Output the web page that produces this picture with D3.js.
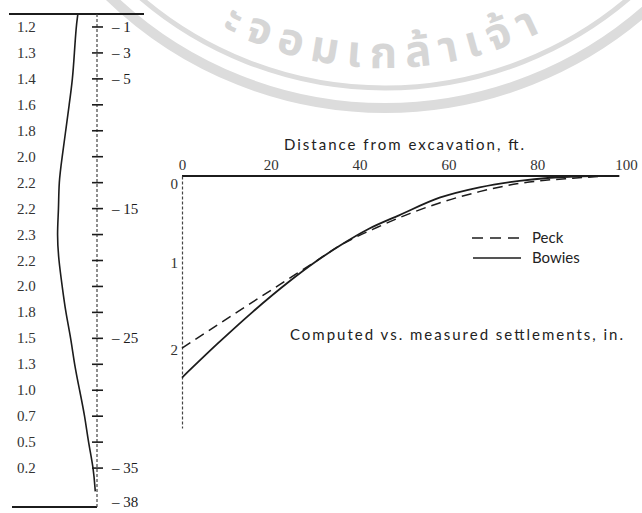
<!DOCTYPE html>
<meta charset="utf-8">
<script src="https://d3js.org/d3.v7.min.js"></script>
<style>
  body { margin: 0; background: #fff; }
</style>
<div id="my_dataviz"></div>
<script>

    // left panel: wall movement profile vs depth
    var depths = [1, 3, 5, 7, 9, 11, 13, 15, 17, 19, 21, 23, 25, 27, 29, 31, 33, 35];
    var movementLabels = ["1.2", "1.3", "1.4", "1.6", "1.8", "2.0", "2.2", "2.2", "2.3",
        "2.2", "2.0", "1.8", "1.5", "1.3", "1.0", "0.7", "0.5", "0.2"];
    var depthLabels = [1, 3, 5, 15, 25, 35, 38];
    var profileDepth = [0, 1, 3, 5, 7, 9, 11, 13, 15, 17, 19, 21, 23, 25, 27, 29, 31, 33, 35, 36.8];
    var profileValue = [1.1, 1.2, 1.3, 1.4, 1.6, 1.8, 2.0, 2.2, 2.2, 2.3, 2.2, 2.0, 1.8, 1.5, 1.3, 1.0, 0.7, 0.5, 0.2, 0.1];

    // right panel: settlement vs distance from excavation
    var distanceTicks = [0, 20, 40, 60, 80, 100];
    var settlementTicks = [0, 1, 2];
    var bowiesDist = [0, 8, 16, 24, 30, 35.6, 42, 49, 58, 67, 76, 83, 93];
    var bowiesSettle = [2.32, 1.93, 1.56, 1.22, 0.99, 0.80, 0.61, 0.45, 0.25, 0.13, 0.055, 0.02, 0];
    var peckDist = [0, 12, 22, 29, 35.6, 44, 51.4, 58, 67, 76, 88, 96];
    var peckSettle = [1.98, 1.58, 1.25, 1.02, 0.80, 0.59, 0.43, 0.31, 0.18, 0.085, 0.025, 0];

    var ink = "#1c1c1c";
    var width = 642, height = 513;

    var svg = d3.select("#my_dataviz")
        .append("svg")
        .attr("width", width)
        .attr("height", height)
        .style("background", "#fff");

    // faint seal watermark across the top
    var wm = svg.append("g").attr("fill", "none").attr("stroke", "#dcdcdc");
    var cx = 385, cy = -288;
    wm.append("circle").attr("cx", cx).attr("cy", cy).attr("r", 396).attr("stroke-width", 10);
    wm.append("circle").attr("cx", cx).attr("cy", cy).attr("r", 376).attr("stroke-width", 5);
    var rt = 356;
    svg.append("path")
        .attr("id", "sealArc")
        .attr("fill", "none")
        .attr("d", "M" + (cx - rt) + "," + cy + " A" + rt + "," + rt + " 0 0 0 " + (cx + rt) + "," + cy);
    svg.append("text")
        .attr("font-family", "'Noto Sans Thai', 'Noto Sans', 'DejaVu Sans', sans-serif")
        .attr("font-size", 44)
        .attr("font-weight", "bold")
        .attr("fill", "#d6d6d6")
        .attr("letter-spacing", 9)
        .append("textPath")
        .attr("href", "#sealArc")
        .attr("startOffset", "50%")
        .attr("text-anchor", "middle")
        .text("ะจอมเกล้าเจ้า");

    // ---------- left panel ----------
    var axisX = 97;
    var depthY = d3.scaleLinear().domain([0, 38]).range([14, 507]);
    var moveX = d3.scaleLinear().domain([0, 2.3]).range([axisX, 57]);

    var left = svg.append("g");

    left.append("line")
        .attr("x1", 9).attr("x2", 144)
        .attr("y1", depthY(0)).attr("y2", depthY(0))
        .attr("stroke", ink).attr("stroke-width", 2);
    left.append("line")
        .attr("x1", 12).attr("x2", axisX)
        .attr("y1", depthY(38)).attr("y2", depthY(38))
        .attr("stroke", ink).attr("stroke-width", 2);
    left.append("line")
        .attr("x1", axisX).attr("x2", axisX)
        .attr("y1", depthY(0)).attr("y2", depthY(38))
        .attr("stroke", "#444").attr("stroke-width", 1.2)
        .attr("stroke-dasharray", "3,2");

    left.selectAll(".dtick")
        .data(depths)
        .enter().append("line")
        .attr("x1", axisX - 5).attr("x2", axisX + 6)
        .attr("y1", function (d) { return depthY(d); })
        .attr("y2", function (d) { return depthY(d); })
        .attr("stroke", ink).attr("stroke-width", 1.6);

    left.selectAll(".mlabel")
        .data(depths)
        .enter().append("text")
        .attr("x", 17)
        .attr("y", function (d) { return depthY(d) + 5; })
        .attr("font-family", "'Liberation Serif', serif")
        .attr("font-size", 15)
        .attr("fill", "#333")
        .text(function (d, i) { return movementLabels[i]; });

    left.selectAll(".dlabel")
        .data(depthLabels)
        .enter().append("text")
        .attr("x", 112)
        .attr("y", function (d) { return Math.min(depthY(d) + 5, 507); })
        .attr("font-family", "'Liberation Serif', serif")
        .attr("font-size", 15)
        .attr("fill", ink)
        .text(function (d) { return "\u2013 " + d; });

    var profile = profileDepth.map(function (d, i) { return [profileValue[i], d]; });
    left.append("path")
        .datum(profile)
        .attr("fill", "none")
        .attr("stroke", ink)
        .attr("stroke-width", 1.6)
        .attr("d", d3.line()
            .x(function (d) { return moveX(d[0]); })
            .y(function (d) { return depthY(d[1]); })
            .curve(d3.curveBasis));

    // ---------- right panel ----------
    var x = d3.scaleLinear().domain([0, 100]).range([182, 626]);
    var y = d3.scaleLinear().domain([0, 2.9]).range([176, 428]);

    var right = svg.append("g");

    var xAxis = right.append("g")
        .attr("transform", "translate(0," + y(0) + ")")
        .call(d3.axisTop(x).tickValues(distanceTicks).tickSize(0).tickPadding(6));
    xAxis.select(".domain")
        .attr("stroke", ink).attr("stroke-width", 2)
        .attr("d", "M" + x(0) + ",0H" + x(98.5));
    xAxis.selectAll("text")
        .attr("font-family", "'Liberation Serif', serif")
        .attr("font-size", 15)
        .attr("fill", "#333");

    var yAxis = right.append("g")
        .attr("transform", "translate(" + x(0) + ",0)")
        .call(d3.axisLeft(y).tickValues(settlementTicks).tickSize(0).tickPadding(4)
            .tickFormat(d3.format("d")));
    yAxis.select(".domain")
        .attr("stroke", "#444").attr("stroke-width", 1.2)
        .attr("stroke-dasharray", "3,2");
    yAxis.selectAll("text")
        .attr("font-family", "'Liberation Serif', serif")
        .attr("font-size", 15)
        .attr("fill", "#333")
        .attr("dy", function (d) { return d === 0 ? "0.8em" : "0.32em"; });

    right.append("text")
        .attr("x", 404)
        .attr("y", 150)
        .attr("text-anchor", "middle")
        .attr("font-family", "Lato, 'Open Sans', sans-serif")
        .attr("font-size", 15)
        .attr("fill", "#222")
        .attr("textLength", 240)
        .attr("lengthAdjust", "spacing")
        .text("Distance from excavation, ft.");

    var line = d3.line()
        .x(function (d) { return x(d[0]); })
        .y(function (d) { return y(d[1]); })
        .curve(d3.curveMonotoneX);

    right.append("path")
        .datum(peckDist.map(function (d, i) { return [d, peckSettle[i]]; }))
        .attr("fill", "none")
        .attr("stroke", ink)
        .attr("stroke-width", 1.5)
        .attr("stroke-dasharray", "10,6")
        .attr("d", line);

    right.append("path")
        .datum(bowiesDist.map(function (d, i) { return [d, bowiesSettle[i]]; }))
        .attr("fill", "none")
        .attr("stroke", ink)
        .attr("stroke-width", 1.8)
        .attr("d", line);

    // legend
    var legend = right.append("g").attr("font-family", "Lato, 'Open Sans', sans-serif")
        .attr("font-size", 15).attr("fill", "#222");
    legend.append("line").attr("x1", 472).attr("x2", 522).attr("y1", 238).attr("y2", 238)
        .attr("stroke", ink).attr("stroke-width", 1.4).attr("stroke-dasharray", "11,7");
    legend.append("line").attr("x1", 473).attr("x2", 521).attr("y1", 258).attr("y2", 258)
        .attr("stroke", ink).attr("stroke-width", 1.6);
    legend.append("text").attr("x", 532).attr("y", 243).text("Peck");
    legend.append("text").attr("x", 532).attr("y", 263).text("Bowies");

    right.append("text")
        .attr("x", 290)
        .attr("y", 340)
        .attr("font-family", "Lato, 'Open Sans', sans-serif")
        .attr("font-size", 15)
        .attr("fill", "#222")
        .attr("textLength", 333)
        .attr("lengthAdjust", "spacing")
        .text("Computed vs. measured settlements, in.");

</script>
